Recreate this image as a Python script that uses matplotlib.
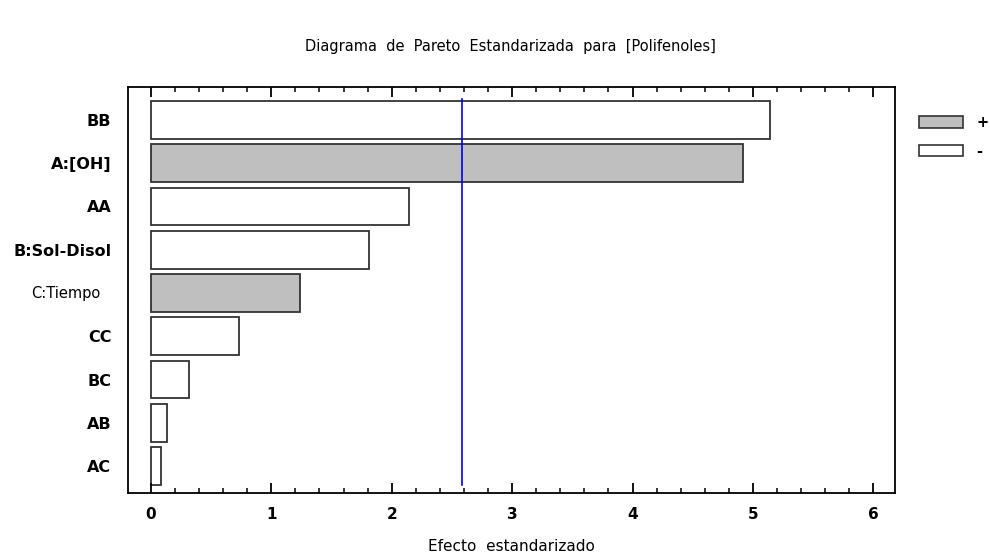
import matplotlib.pyplot as plt
import matplotlib.transforms as mtransforms
from matplotlib.patches import Patch
from matplotlib.ticker import MultipleLocator

# datos (de abajo hacia arriba)
efectos = ['AC', 'AB', 'BC', 'CC', 'C:Tiempo', 'B:Sol-Disol', 'AA', 'A:[OH]', 'BB']
valores = [0.08, 0.13, 0.32, 0.73, 1.24, 1.81, 2.145, 4.92, 5.14]
signo = ['-', '-', '-', '-', '+', '-', '-', '+', '-']
limite = 2.58

colores = ['#bfbfbf' if s == '+' else 'white' for s in signo]

fig = plt.figure(figsize=(9.9, 5.58), dpi=100)
ax = fig.add_axes([128/990, 1-493/558, (895-128)/990, (493-87)/558])

ax.barh(range(len(efectos)), valores, height=0.87, color=colores,
        edgecolor='#333333', linewidth=1.3)
ax.axvline(limite, ymin=0.02, ymax=0.97, color='blue', lw=1.2)

ax.set_xlim(-0.19, 6.18)
ax.set_ylim(-0.62, 8.76)
ax.set_yticks(range(len(efectos)))
# C:Tiempo va en letra normal y un poco mas a la izquierda
ax.set_yticklabels(['' if e == 'C:Tiempo' else e for e in efectos], fontweight='bold')
off = mtransforms.ScaledTranslation(-28/100, 0, fig.dpi_scale_trans)
i = efectos.index('C:Tiempo')
ax.text(0, i, 'C:Tiempo', transform=ax.get_yaxis_transform() + off,
        ha='right', va='center', fontsize=10.5)
ax.tick_params(axis='y', length=0, labelsize=11.5, pad=12)
ax.xaxis.set_major_locator(MultipleLocator(1))
ax.xaxis.set_minor_locator(MultipleLocator(0.2))
ax.tick_params(axis='x', which='major', direction='in', length=7, width=1.3,
               top=True, labelsize=11, pad=10)
ax.tick_params(axis='x', which='minor', direction='in', length=3.5, width=1.1, top=True)
for lab in ax.get_xticklabels():
    lab.set_fontweight('bold')
for s in ax.spines.values():
    s.set_linewidth(1.3)

ax.set_xlabel('Efecto  estandarizado', fontsize=11, labelpad=12)
fig.suptitle('Diagrama  de  Pareto  Estandarizada  para  [Polifenoles]',
             y=1-47/558, fontsize=10.5, x=510/990, va='center')

handles = [Patch(facecolor='#bfbfbf', edgecolor='#333333', lw=1.2),
           Patch(facecolor='white', edgecolor='#333333', lw=1.2)]
fig.legend(handles, ['+', '-'], loc='upper left', bbox_to_anchor=(906/990, 1-102/558),
           frameon=False, handlelength=3.0, handleheight=0.8, prop={'weight': 'bold', 'size': 10.5},
           labelspacing=0.95, handletextpad=0.9)

fig.savefig('out.png', dpi=100)
